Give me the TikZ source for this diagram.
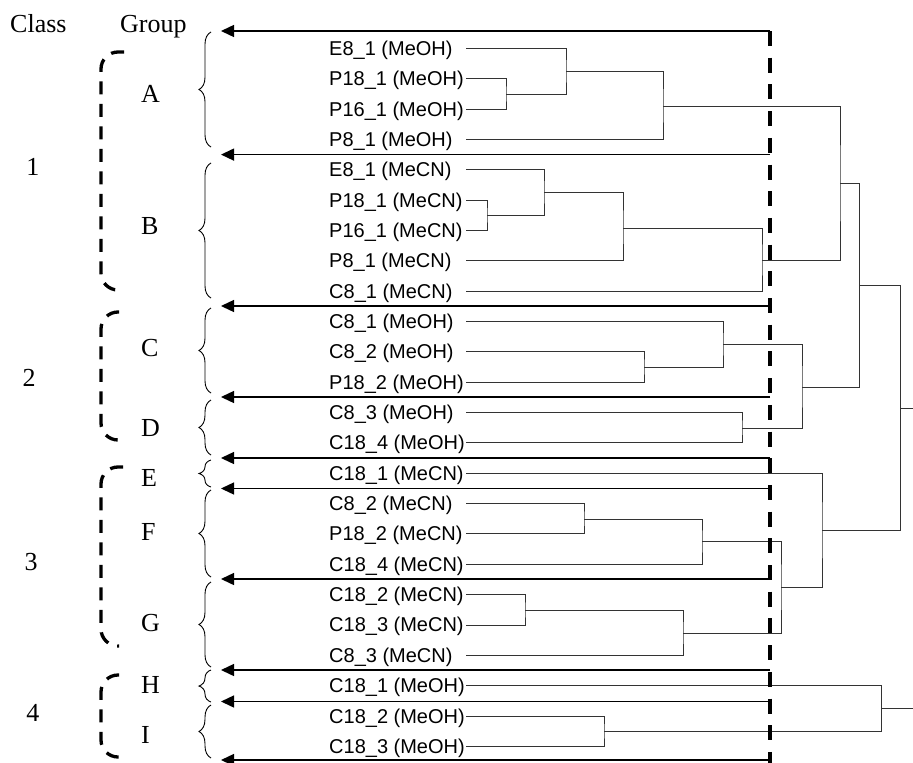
\documentclass[tikz,border=0pt]{standalone}
\usepackage{fontspec}
\setmainfont{Liberation Serif}
\newfontfamily\labelfont{Liberation Sans}
\usetikzlibrary{arrows.meta,decorations.pathreplacing}

\tikzset{
  leaf/.style={anchor=base west, inner sep=0pt, font=\labelfont\fontsize{20}{24}\selectfont},
  serif/.style={inner sep=0pt, font=\fontsize{26}{30}\selectfont},
  den/.style={line width=0.9pt, draw=black!80},
  sepline/.style={line width=1.4pt, -{Triangle[length=13pt,width=12pt]}},
  cutline/.style={line width=3.5pt, dash pattern=on 15pt off 11.7pt},
  classbr/.style={line width=3.3pt, dash pattern=on 13pt off 9.5pt, rounded corners=17pt},
  grpbrace/.style={decorate, decoration={brace, amplitude=12pt}, line width=0.9pt},
}

\begin{document}
\begin{tikzpicture}[x=1pt, y=-1pt]
\useasboundingbox (0,0) rectangle (913,763);

% column headings
\node[serif, anchor=base west] (cls) at (10,32) {Class};
\node[serif, anchor=base west] (grp) at (120,32) {Group};

% sample labels and the start of each leaf line
\foreach \i/\t in {
  1/{E8\_1 (MeOH)}, 2/{P18\_1 (MeOH)}, 3/{P16\_1 (MeOH)}, 4/{P8\_1 (MeOH)},
  5/{E8\_1 (MeCN)}, 6/{P18\_1 (MeCN)}, 7/{P16\_1 (MeCN)}, 8/{P8\_1 (MeCN)},
  9/{C8\_1 (MeCN)}, 10/{C8\_1 (MeOH)}, 11/{C8\_2 (MeOH)}, 12/{P18\_2 (MeOH)},
  13/{C8\_3 (MeOH)}, 14/{C18\_4 (MeOH)}, 15/{C18\_1 (MeCN)}, 16/{C8\_2 (MeCN)},
  17/{P18\_2 (MeCN)}, 18/{C18\_4 (MeCN)}, 19/{C18\_2 (MeCN)}, 20/{C18\_3 (MeCN)},
  21/{C8\_3 (MeCN)}, 22/{C18\_1 (MeOH)}, 23/{C18\_2 (MeOH)}, 24/{C18\_3 (MeOH)}}{
  \pgfmathsetmacro\ry{48.3+30.35*(\i-1)}
  \node[leaf] (n\i) at (329,\ry+7) {\t};
  \coordinate (s\i) at (466,\ry);
}

% merge points of the dendrogram
\coordinate (mA1) at (506,94);
\coordinate (mA2) at (566,71);
\coordinate (mA) at (663,106);
\coordinate (mB1) at (487,215);
\coordinate (mB2) at (544,192);
\coordinate (mB3) at (623,228);
\coordinate (mB) at (762,260);
\coordinate (mAB) at (840,183);
\coordinate (mC1) at (644,367);
\coordinate (mC) at (723,344);
\coordinate (mD) at (742,428);
\coordinate (mCD) at (802,387);
\coordinate (m12) at (859,285);
\coordinate (mF1) at (584,519);
\coordinate (mF) at (702,541);
\coordinate (mG1) at (525,610);
\coordinate (mG) at (683,633);
\coordinate (mFG) at (781,587);
\coordinate (mEFG) at (822,530);
\coordinate (m123) at (900,408);
\coordinate (mI) at (604,731);
\coordinate (mHI) at (881,708);
\coordinate (e1) at (913,408);
\coordinate (e2) at (913,708);

% dendrogram branches
\draw[den] (s2) -| (mA1) |- (s3);
\draw[den] (s1) -| (mA2) |- (mA1);
\draw[den] (mA2) -| (mA) |- (s4);
\draw[den] (s6) -| (mB1) |- (s7);
\draw[den] (s5) -| (mB2) |- (mB1);
\draw[den] (mB2) -| (mB3) |- (s8);
\draw[den] (mB3) -| (mB) |- (s9);
\draw[den] (mA) -| (mAB) |- (mB);
\draw[den] (s11) -| (mC1) |- (s12);
\draw[den] (s10) -| (mC) |- (mC1);
\draw[den] (s13) -| (mD) |- (s14);
\draw[den] (mC) -| (mCD) |- (mD);
\draw[den] (mAB) -| (m12) |- (mCD);
\draw[den] (s16) -| (mF1) |- (s17);
\draw[den] (mF1) -| (mF) |- (s18);
\draw[den] (s19) -| (mG1) |- (s20);
\draw[den] (mG1) -| (mG) |- (s21);
\draw[den] (mF) -| (mFG) |- (mG);
\draw[den] (s15) -| (mEFG) |- (mFG);
\draw[den] (m12) -| (m123) |- (mEFG);
\draw[den] (m123) -- (e1);
\draw[den] (s23) -| (mI) |- (s24);
\draw[den] (s22) -| (mHI) |- (mI);
\draw[den] (mHI) -- (e2);

% group separators with arrows
\foreach \k/\y in {1/31, 2/154.6, 3/306, 4/397, 5/458, 6/488.5, 7/579, 8/670, 9/701.5, 10/760}{
  \coordinate (r\k) at (770,\y);
  \coordinate (t\k) at (221,\y);
  \draw[sepline] (r\k) -- (t\k);
}

% cut-off line
\coordinate (ctop) at (770,31);
\coordinate (cbot) at (770,763);
\draw[cutline] (ctop) -- (cbot);

% group braces
\draw[grpbrace] (211,147) -- (211,32);
\draw[grpbrace] (211,298) -- (211,163);
\draw[grpbrace] (211,393) -- (211,308);
\draw[grpbrace] (211,455) -- (211,400);
\draw[grpbrace] (211,487) -- (211,460);
\draw[grpbrace] (211,577) -- (211,490);
\draw[grpbrace] (211,667) -- (211,582);
\draw[grpbrace] (211,702) -- (211,670);
\draw[grpbrace] (211,758) -- (211,705);

% group letters
\node[serif, anchor=west] (gA) at (141,94) {A};
\node[serif, anchor=west] (gB) at (141,226) {B};
\node[serif, anchor=west] (gC) at (141,348) {C};
\node[serif, anchor=west] (gD) at (141,428) {D};
\node[serif, anchor=west] (gE) at (141,478) {E};
\node[serif, anchor=west] (gF) at (141,532) {F};
\node[serif, anchor=west] (gG) at (141,623) {G};
\node[serif, anchor=west] (gH) at (141,685) {H};
\node[serif, anchor=west] (gI) at (141,735) {I};

% class numbers and their dashed brackets
\node[serif] (c1) at (33,167) {1};
\node[serif] (c2) at (29,378) {2};
\node[serif] (c3) at (31,562) {3};
\node[serif] (c4) at (33,713) {4};
\draw[classbr] (124,52) -- (101,52) -- (101,290) -- (124,290);
\draw[classbr] (119,312) -- (101,312) -- (101,440) -- (119,440);
\draw[classbr] (123,467) -- (101,467) -- (101,646) -- (119,646);
\draw[classbr] (119,675) -- (101,675) -- (101,757) -- (119,757);
\end{tikzpicture}
\end{document}
